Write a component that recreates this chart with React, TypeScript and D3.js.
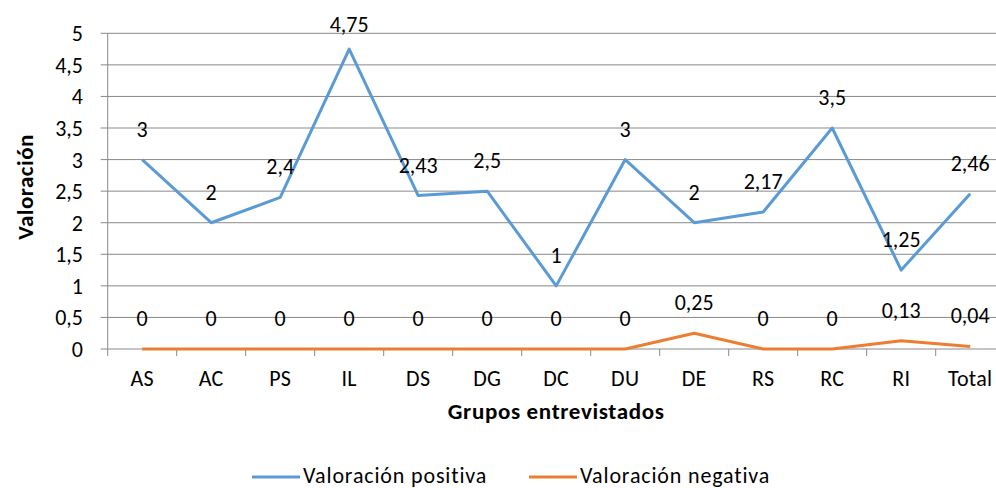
import React from "react";
import * as d3 from "d3";

const categories = ["AS", "AC", "PS", "IL", "DS", "DG", "DC", "DU", "DE", "RS", "RC", "RI", "Total"];
const positiva = [3, 2, 2.4, 4.75, 2.43, 2.5, 1, 3, 2, 2.17, 3.5, 1.25, 2.46];
const negativa = [0, 0, 0, 0, 0, 0, 0, 0, 0.25, 0, 0, 0.13, 0.04];
const yTicks = [0, 0.5, 1, 1.5, 2, 2.5, 3, 3.5, 4, 4.5, 5];
const seriesNames = ["Valoración positiva", "Valoración negativa"];
const colors = ["#5B9BD5", "#ED7D31"];

const W = 996, H = 488;
const left = 107.7, right = 1004.7, top = 33.3, bottom = 349;
const FONT = "Carlito, Lato, 'Open Sans', sans-serif";
const FS = 22;

const fmt = (v: number) => String(v).replace(".", ",");

export default function App() {
  const x = d3.scaleBand<string>().domain(categories).range([left, right]);
  const y = d3.scaleLinear().domain([0, 5]).range([bottom, top]);
  const cx = (c: string) => (x(c) as number) + x.bandwidth() / 2;
  const line = d3
    .line<number>()
    .x((_, i) => cx(categories[i]))
    .y((d) => y(d));
  const series = [positiva, negativa];
  const legendX = [252, 529];
  return (
    <svg width={W} height={H} style={{ position: "absolute", left: 0, top: 0, background: "#fff" }} fontFamily={FONT}>
      {yTicks.map((t) => (
        <g key={t}>
          <line x1={left - 7} x2={right} y1={y(t)} y2={y(t)} stroke="#898989" strokeWidth={1} />
          <text x={83} y={y(t)} dy="0.36em" textAnchor="end" fontSize={FS} fill="#000">
            {fmt(t)}
          </text>
        </g>
      ))}
      <line x1={left} x2={left} y1={top} y2={bottom + 7} stroke="#898989" strokeWidth={1} />
      {categories.map((c) => (
        <g key={c}>
          <line
            x1={(x(c) as number) + x.bandwidth()}
            x2={(x(c) as number) + x.bandwidth()}
            y1={bottom}
            y2={bottom + 7}
            stroke="#898989"
          />
          <text x={cx(c)} y={386} textAnchor="middle" fontSize={FS} fill="#000" letterSpacing={0.3}>
            {c}
          </text>
        </g>
      ))}
      {series.map((s, k) => (
        <path key={k} d={line(s) as string} fill="none" stroke={colors[k]} strokeWidth={3} strokeLinejoin="round" />
      ))}
      {series.map((s, k) =>
        s.map((v, i) => (
          <text
            key={`${k}-${i}`}
            x={cx(categories[i])}
            y={Math.max(32, y(v) - 23)}
            textAnchor="middle"
            fontSize={FS}
            fill="#000"
          >
            {fmt(v)}
          </text>
        ))
      )}
      <text
        transform={`translate(33,187) rotate(-90)`}
        textAnchor="middle"
        fontSize={23}
        fontWeight="bold"
        fill="#000"
        letterSpacing={0.5}
      >
        Valoración
      </text>
      <text
        x={(left + right) / 2}
        y={419}
        textAnchor="middle"
        fontSize={23}
        fontWeight="bold"
        fill="#000"
        letterSpacing={0.65}
      >
        Grupos entrevistados
      </text>
      {seriesNames.map((n, k) => {
        const lx = legendX[k];
        return (
          <g key={n}>
            <line x1={lx} x2={lx + 48} y1={477} y2={477} stroke={colors[k]} strokeWidth={3} />
            <text x={lx + 51} y={483} fontSize={FS} fill="#000" letterSpacing={0.85}>
              {n}
            </text>
          </g>
        );
      })}
    </svg>
  );
}
